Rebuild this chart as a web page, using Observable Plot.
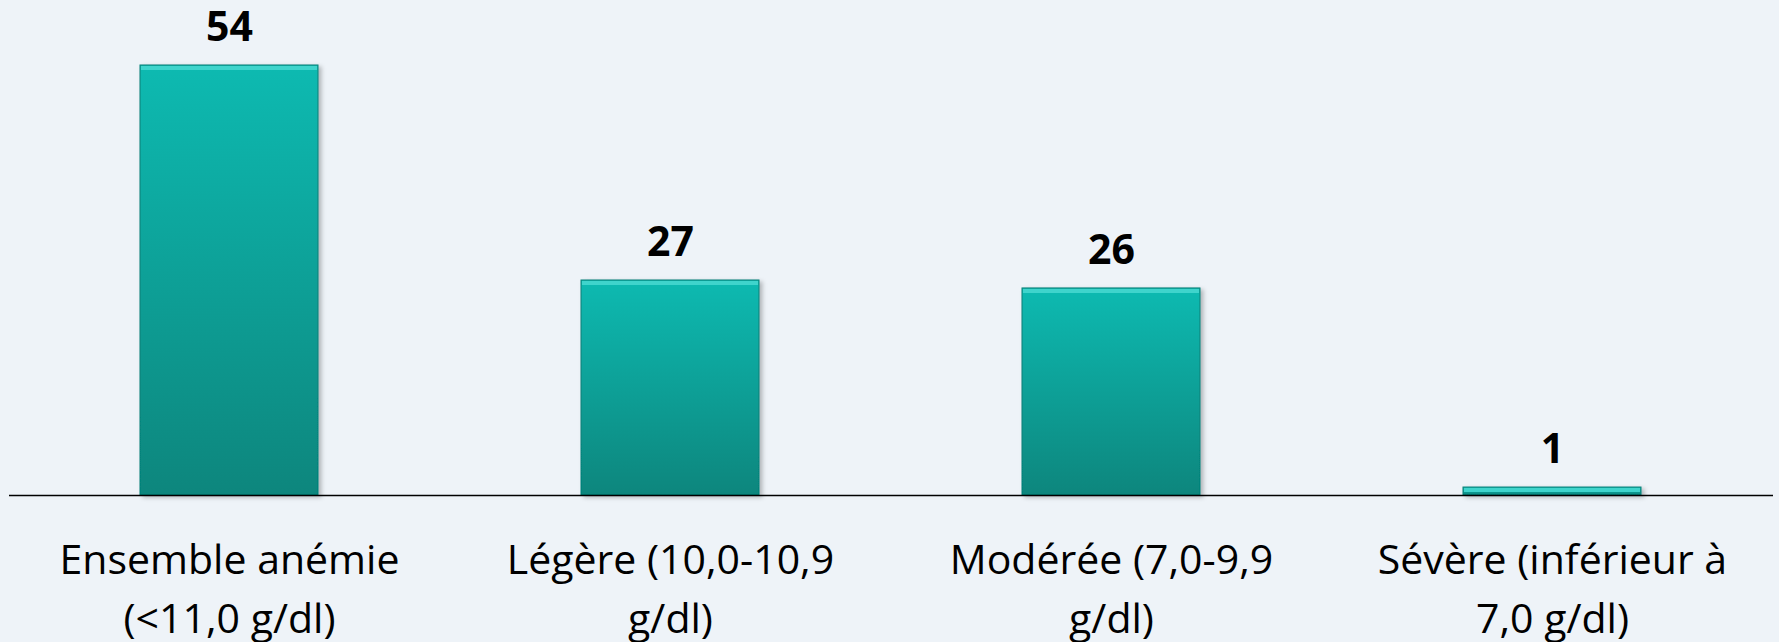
<!DOCTYPE html>
<html>
<head>
<meta charset="utf-8">
<script src="https://cdn.jsdelivr.net/npm/d3@7"></script>
<script src="https://cdn.jsdelivr.net/npm/@observablehq/plot@0.6"></script>
<style>
  html, body { margin: 0; padding: 0; background: #eef3f8; }
  #chart svg { display: block; }
</style>
</head>
<body>
<div id="chart"></div>
<script>
const categories = [
  "Ensemble anémie\n(<11,0 g/dl)",
  "Légère (10,0-10,9\ng/dl)",
  "Modérée (7,0-9,9\ng/dl)",
  "Sévère (inférieur à\n7,0 g/dl)"
];
const values = [54, 27, 26, 1];

const data = categories.map((c, i) => ({category: c, value: values[i]}));

const chart = Plot.plot({
  width: 1779,
  height: 642,
  marginLeft: 9,
  marginRight: 6,
  marginTop: 65,
  marginBottom: 147,
  style: {background: "#eef3f8", fontFamily: "'Open Sans', sans-serif", color: "#000"},
  x: {type: "band", domain: categories, paddingInner: 0.596, paddingOuter: 0.298, axis: null},
  y: {domain: [0, 54], axis: null},
  marks: [
    Plot.barY(data, {x: "category", y: "value", fill: "url(#barGrad)", stroke: "#077e76", strokeWidth: 1}),
    Plot.tickY(data, {x: "category", y: "value", stroke: "#3fd4cc", strokeWidth: 4, dy: 2.5, inset: 1}),
    Plot.ruleY([0], {stroke: "#000", strokeWidth: 1.5}),
    Plot.text(data, {x: "category", y: "value", text: d => String(d.value), dy: -38, fontSize: 41, fontWeight: "bold", fill: "#000"}),
    Plot.text(data, {x: "category", y: () => 0, text: "category", lineAnchor: "top", dy: 36, fontSize: 41, lineHeight: 1.45, fill: "#000"})
  ]
});

const svg = d3.select(chart);
const defs = svg.insert("defs", ":first-child");
const g = defs.append("linearGradient").attr("id", "barGrad").attr("x1", 0).attr("y1", 0).attr("x2", 0).attr("y2", 1);
g.append("stop").attr("offset", "0%").attr("stop-color", "#0bbab1");
g.append("stop").attr("offset", "100%").attr("stop-color", "#07867d");
const f = defs.append("filter").attr("id", "shadow").attr("x", "-10%").attr("y", "-10%").attr("width", "120%").attr("height", "120%");
f.append("feDropShadow").attr("dx", 3).attr("dy", 2).attr("stdDeviation", 2).attr("flood-color", "#000").attr("flood-opacity", 0.25);
svg.select("g[aria-label=bar]").attr("filter", "url(#shadow)");

document.getElementById("chart").appendChild(chart);
</script>
</body>
</html>
